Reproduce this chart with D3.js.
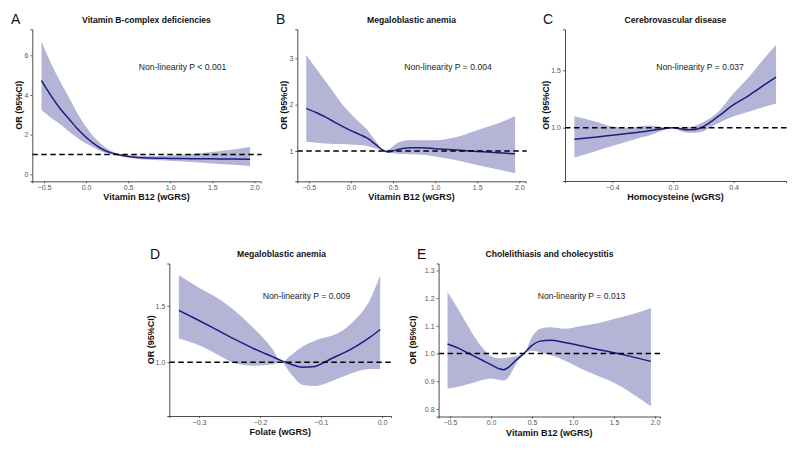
<!DOCTYPE html>
<html>
<head>
<meta charset="utf-8">
<script src="https://cdn.jsdelivr.net/npm/d3@7"></script>
<style>
  html, body { margin: 0; padding: 0; background: #fff; }
  svg { display: block; font-family: "Liberation Sans", Arial, sans-serif; }
</style>
</head>
<body>
<svg id="chart" width="800" height="452"></svg>
<script>
// ---------- DATA ----------
// Panel A: Vitamin B12 (wGRS) -> Vitamin B-complex deficiencies
const aX  = [-0.53, -0.4, -0.3, -0.2, -0.1, 0.0, 0.1, 0.2, 0.3, 0.4, 0.5, 0.75, 1.0, 1.25, 1.5, 1.75, 1.95];
const aOR = [4.72, 3.85, 3.27, 2.78, 2.28, 1.87, 1.52, 1.25, 1.08, 0.97, 0.9, 0.82, 0.8, 0.79, 0.78, 0.77, 0.76];
const aHi = [6.69, 5.45, 4.62, 3.85, 3.05, 2.4, 1.85, 1.45, 1.18, 1.03, 0.97, 0.92, 0.95, 1.02, 1.12, 1.25, 1.38];
const aLo = [3.24, 2.8, 2.5, 2.15, 1.82, 1.55, 1.32, 1.12, 1.02, 0.94, 0.85, 0.73, 0.68, 0.62, 0.55, 0.48, 0.42];
const aXTicks = [-0.5, 0.0, 0.5, 1.0, 1.5, 2.0];
const aYTicks = [0, 2, 4, 6];

// Panel B: Vitamin B12 (wGRS) -> Megaloblastic anemia
const bX  = [-0.53, -0.4, -0.3, -0.2, -0.1, 0.0, 0.1, 0.2, 0.3, 0.4, 0.45, 0.55, 0.7, 0.85, 1.0, 1.25, 1.5, 1.75, 1.95];
const bOR = [1.92, 1.82, 1.73, 1.63, 1.53, 1.44, 1.36, 1.27, 1.13, 1.0, 0.98, 1.03, 1.07, 1.07, 1.05, 1.02, 0.99, 0.96, 0.94];
const bHi = [3.07, 2.75, 2.5, 2.25, 2.0, 1.8, 1.62, 1.45, 1.2, 1.0, 1.03, 1.17, 1.24, 1.23, 1.23, 1.3, 1.45, 1.6, 1.75];
const bLo = [1.2, 1.18, 1.16, 1.15, 1.15, 1.14, 1.13, 1.1, 1.05, 1.0, 0.96, 0.94, 0.93, 0.92, 0.88, 0.8, 0.7, 0.6, 0.52];
const bXTicks = [-0.5, 0.0, 0.5, 1.0, 1.5, 2.0];
const bYTicks = [1, 2, 3];

// Panel C: Homocysteine (wGRS) -> Cerebrovascular disease
const cX  = [-0.65, -0.5, -0.4, -0.3, -0.2, -0.15, -0.1, 0.0, 0.05, 0.1, 0.15, 0.2, 0.3, 0.4, 0.5, 0.6, 0.68];
const cOR = [0.9, 0.92, 0.935, 0.95, 0.965, 0.975, 0.985, 1.0, 0.99, 0.982, 0.985, 1.01, 1.1, 1.2, 1.28, 1.37, 1.44];
const cHi = [1.1, 1.05, 1.01, 1.0, 1.015, 1.02, 1.01, 1.0, 1.0, 1.005, 1.02, 1.05, 1.14, 1.3, 1.44, 1.6, 1.72];
const cLo = [0.74, 0.8, 0.84, 0.88, 0.92, 0.935, 0.96, 1.0, 0.97, 0.957, 0.957, 0.97, 1.04, 1.1, 1.14, 1.18, 1.21];
const cXTicks = [-0.4, 0.0, 0.4];
const cYTicks = [1.0, 1.5];

// Panel D: Folate (wGRS) -> Megaloblastic anemia
const dX  = [-0.333, -0.3, -0.27, -0.24, -0.21, -0.18, -0.165, -0.15, -0.13, -0.11, -0.1, -0.08, -0.06, -0.04, -0.02, -0.003];
const dOR = [1.46, 1.37, 1.285, 1.2, 1.12, 1.05, 1.015, 0.985, 0.957, 0.962, 0.985, 1.04, 1.09, 1.15, 1.22, 1.29];
const dHi = [1.77, 1.66, 1.57, 1.45, 1.3, 1.12, 1.0, 1.06, 1.14, 1.19, 1.21, 1.24, 1.3, 1.4, 1.55, 1.77];
const dLo = [1.21, 1.15, 1.07, 0.99, 0.97, 0.98, 1.0, 0.9, 0.8, 0.79, 0.8, 0.84, 0.88, 0.92, 0.94, 0.94];
const dXTicks = [-0.3, -0.2, -0.1, 0.0];
const dYTicks = [1.0, 1.5];

// Panel E: Vitamin B12 (wGRS) -> Cholelithiasis and cholecystitis
const eX  = [-0.53, -0.4, -0.3, -0.2, -0.1, 0.0, 0.1, 0.15, 0.2, 0.3, 0.4, 0.5, 0.6, 0.72, 0.9, 1.1, 1.3, 1.5, 1.7, 1.95];
const eOR = [1.035, 1.02, 1.005, 0.99, 0.975, 0.96, 0.945, 0.942, 0.948, 0.975, 1.0, 1.03, 1.045, 1.048, 1.04, 1.028, 1.015, 1.003, 0.99, 0.972];
const eHi = [1.222, 1.16, 1.11, 1.06, 1.02, 0.99, 0.983, 0.983, 0.985, 0.99, 1.0, 1.06, 1.09, 1.095, 1.09, 1.1, 1.11, 1.125, 1.14, 1.165];
const eLo = [0.874, 0.88, 0.888, 0.897, 0.905, 0.91, 0.905, 0.903, 0.91, 0.96, 1.0, 1.01, 1.005, 0.995, 0.975, 0.945, 0.92, 0.895, 0.86, 0.81];
const eXTicks = [-0.5, 0.0, 0.5, 1.0, 1.5, 2.0];
const eYTicks = [0.8, 0.9, 1.0, 1.1, 1.2, 1.3];

const letters  = ["A", "B", "C", "D", "E"];
const titles   = ["Vitamin B-complex deficiencies", "Megaloblastic anemia", "Cerebrovascular disease", "Megaloblastic anemia", "Cholelithiasis and cholecystitis"];
const xLabels  = ["Vitamin B12 (wGRS)", "Vitamin B12 (wGRS)", "Homocysteine (wGRS)", "Folate (wGRS)", "Vitamin B12 (wGRS)"];
const pLabels  = ["Non-linearity P < 0.001", "Non-linearity P = 0.004", "Non-linearity P = 0.037", "Non-linearity P = 0.009", "Non-linearity P = 0.013"];
const yLabel   = "OR (95%CI)";
const refOR    = 1;

// ---------- LAYOUT (pixels) ----------
// box: axis extents; xa/ya: two reference ticks (value, pixel) used to calibrate each scale
const layout = [
  { box: [32.3, 260.7, 29.3, 181.3], xa: [-0.5, 44.0, 2.0, 254.3], ya: [0, 174.3, 6, 55.3], fmtX: d3.format(".1f"), fmtY: d3.format("d"),
    titleX: 146.5, pX: 182.5, pY: 69.5, letterX: 11, ylabX: 18.5 },
  { box: [297.3, 525.7, 29.3, 181.3], xa: [-0.5, 308.8, 2.0, 519.3], ya: [1, 151, 3, 58.3], fmtX: d3.format(".1f"), fmtY: d3.format("d"),
    titleX: 411.5, pX: 448, pY: 69.5, letterX: 276, ylabX: 283.5 },
  { box: [565, 786, 29.3, 181], xa: [-0.4, 612.3, 0.4, 733.6], ya: [1.0, 127.7, 1.5, 70.3], fmtX: d3.format(".1f"), fmtY: d3.format(".1f"),
    titleX: 675.5, pX: 700, pY: 69.5, letterX: 543, ylabX: 545.5 },
  { box: [169.3, 391, 263.5, 416], xa: [-0.3, 199, 0.0, 382], ya: [1.0, 362.3, 1.5, 305.8], fmtX: d3.format(".1f"), fmtY: d3.format(".1f"),
    titleX: 281.5, pX: 306.5, pY: 298.5, letterX: 150, ylabX: 150.5 },
  { box: [438.6, 660, 263.5, 416.5], xa: [-0.5, 450, 2.0, 655], ya: [0.8, 409, 1.3, 270.5], fmtX: d3.format(".1f"), fmtY: d3.format(".1f"),
    titleX: 549.5, pX: 581.5, pY: 299, letterX: 417, ylabX: 413 }
];

const series = [
  { x: aX, or: aOR, lo: aLo, hi: aHi, xt: aXTicks, yt: aYTicks },
  { x: bX, or: bOR, lo: bLo, hi: bHi, xt: bXTicks, yt: bYTicks },
  { x: cX, or: cOR, lo: cLo, hi: cHi, xt: cXTicks, yt: cYTicks },
  { x: dX, or: dOR, lo: dLo, hi: dHi, xt: dXTicks, yt: dYTicks },
  { x: eX, or: eOR, lo: eLo, hi: eHi, xt: eXTicks, yt: eYTicks }
];

const svg = d3.select("#chart");
const BAND = "#b4b4d7", LINE = "#1c1c82", AXIS = "#3a3a3a", TICKTXT = "#555";

function calScale(ref, lo, hi) {
  const s = d3.scaleLinear().domain([ref[0], ref[2]]).range([ref[1], ref[3]]);
  return d3.scaleLinear().domain([s.invert(lo), s.invert(hi)]).range([lo, hi]);
}

series.forEach((s, i) => {
  const L = layout[i];
  const [x0, x1, y0, y1] = L.box;
  const x = calScale(L.xa, x0, x1);
  const y = calScale(L.ya, y1, y0);
  const g = svg.append("g");
  const pts = s.x.map((v, k) => ({ x: v, or: s.or[k], lo: s.lo[k], hi: s.hi[k] }));
  const curve = d3.curveMonotoneX;

  g.append("path").datum(pts)
    .attr("fill", BAND).attr("stroke", "none")
    .attr("d", d3.area().curve(curve).x(d => x(d.x)).y0(d => y(d.lo)).y1(d => y(d.hi)));

  g.append("path").datum(pts)
    .attr("fill", "none").attr("stroke", LINE).attr("stroke-width", 1.5)
    .attr("d", d3.line().curve(curve).x(d => x(d.x)).y(d => y(d.or)));

  g.append("line")
    .attr("x1", x0).attr("x2", x1 + 1)
    .attr("y1", y(refOR)).attr("y2", y(refOR))
    .attr("stroke", "#000").attr("stroke-width", 1.5).attr("stroke-dasharray", "5.5,3.5");

  // axes
  const xAxis = d3.axisBottom(x).tickValues(s.xt).tickFormat(L.fmtX).tickSize(2).tickPadding(2);
  const yAxis = d3.axisLeft(y).tickValues(s.yt).tickFormat(L.fmtY).tickSize(2).tickPadding(2);
  const gx = g.append("g").attr("transform", `translate(0,${y1})`).call(xAxis);
  const gy = g.append("g").attr("transform", `translate(${x0},0)`).call(yAxis);
  [gx, gy].forEach(ax => {
    ax.select(".domain").attr("stroke", AXIS).attr("stroke-width", 0.9);
    ax.selectAll(".tick line").attr("stroke", AXIS).attr("stroke-width", 0.8);
    ax.selectAll(".tick text").attr("fill", TICKTXT).style("font-size", "7px")
      .style("font-family", "'Liberation Sans', Arial, sans-serif");
  });

  // texts
  g.append("text").attr("x", L.titleX).attr("y", y0 - 6.5).attr("text-anchor", "middle")
    .style("font-size", "8.6px").style("font-weight", "bold").attr("fill", "#111").text(titles[i]);
  g.append("text").attr("x", L.letterX).attr("y", y0 - 5).attr("text-anchor", "start")
    .style("font-size", "14px").attr("fill", "#111").text(letters[i]);
  g.append("text").attr("x", L.pX).attr("y", L.pY).attr("text-anchor", "middle")
    .style("font-size", "8.6px").attr("fill", "#222").text(pLabels[i]);
  g.append("text").attr("x", (x0 + x1) / 2).attr("y", y1 + 19).attr("text-anchor", "middle")
    .style("font-size", "9px").style("font-weight", "bold").attr("fill", "#111").text(xLabels[i]);
  g.append("text").attr("transform", `translate(${L.ylabX},${(y0 + y1) / 2}) rotate(-90)`)
    .attr("text-anchor", "middle").attr("dy", "0.35em")
    .style("font-size", "9px").style("font-weight", "bold").attr("fill", "#111").text(yLabel);
});
</script>
</body>
</html>
